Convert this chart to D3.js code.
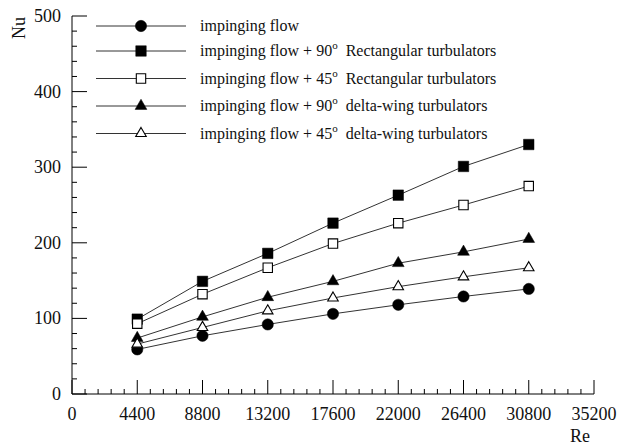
<!DOCTYPE html>
<html><head><meta charset="utf-8">
<script src="https://cdn.jsdelivr.net/npm/d3@7"></script>
<style>body{margin:0;background:#fff}svg{display:block}text{font-family:"Liberation Serif","Times New Roman",serif;fill:#111}</style>
</head><body><svg id="c" width="627" height="445"></svg>
<script>
const re = [4400, 8800, 13200, 17600, 22000, 26400, 30800];
const nuImp = [59, 77, 92, 106, 118, 129, 139];
const nuRect90 = [99, 149, 186, 226, 263, 301, 330];
const nuRect45 = [93, 132, 167, 199, 226, 250, 275];
const nuDelta90 = [74, 102, 128, 149, 173, 188, 205];
const nuDelta45 = [66, 88, 110, 127, 142, 155, 167];
const xTicks = [0, 4400, 8800, 13200, 17600, 22000, 26400, 30800, 35200];
const yTicks = [0, 100, 200, 300, 400, 500];
const series = [
  {pre:"impinging flow", deg:null, post:"", vals:nuImp, sym:d3.symbolCircle, fill:true},
  {pre:"impinging flow + 90", deg:"o", post:"  Rectangular turbulators", vals:nuRect90, sym:d3.symbolSquare, fill:true},
  {pre:"impinging flow + 45", deg:"o", post:"  Rectangular turbulators", vals:nuRect45, sym:d3.symbolSquare, fill:false},
  {pre:"impinging flow + 90", deg:"o", post:"  delta-wing turbulators", vals:nuDelta90, sym:d3.symbolTriangle, fill:true},
  {pre:"impinging flow + 45", deg:"o", post:"  delta-wing turbulators", vals:nuDelta45, sym:d3.symbolTriangle, fill:false}
];
const svg = d3.select("#c");
const x = d3.scaleLinear().domain([0, 35200]).range([72, 594]);
const y = d3.scaleLinear().domain([0, 500]).range([394, 16]);
const g = svg.append("g");
// axes
g.append("line").attr("x1",x(0)).attr("x2",x(35200)).attr("y1",y(0)).attr("y2",y(0)).attr("stroke","#000");
g.append("line").attr("x1",x(0)).attr("x2",x(0)).attr("y1",y(0)).attr("y2",y(500)).attr("stroke","#000");
const xMinor = d3.range(0, 35200 + 1, 880);
g.selectAll(".xt").data(xMinor).join("line")
  .attr("x1",d=>x(d)).attr("x2",d=>x(d)).attr("y1",y(0))
  .attr("y2",d=>y(0) - (d % 4400 === 0 ? 14 : 5)).attr("stroke","#000");
const yMinor = d3.range(0, 500 + 1, 20);
g.selectAll(".yt").data(yMinor).join("line")
  .attr("y1",d=>y(d)).attr("y2",d=>y(d)).attr("x1",x(0))
  .attr("x2",d=>x(0) + (d % 100 === 0 ? 15 : 5)).attr("stroke","#000");
g.selectAll(".xl").data(xTicks).join("text")
  .attr("x",d=>x(d)).attr("y",420).attr("text-anchor","middle").attr("font-size",18).text(d=>d);
g.selectAll(".yl").data(yTicks).join("text")
  .attr("x",61).attr("y",d=>y(d)+6).attr("text-anchor","end").attr("font-size",18).text(d=>d);
svg.append("text").attr("transform","translate(25,28) rotate(-90)").attr("text-anchor","middle").attr("font-size",18).text("Nu");
svg.append("text").attr("x",580).attr("y",442).attr("text-anchor","middle").attr("font-size",18).text("Re");
// series
const line = d3.line().x((d,i)=>x(re[i])).y(d=>y(d));
function drawSym(sel, s, cx, cy) {
  const size = s.sym === d3.symbolTriangle ? 60 : (s.sym === d3.symbolSquare ? 110 : 100);
  const sz = s.fill ? size : size*0.8;
  sel.append("path").attr("d", d3.symbol().type(s.sym).size(sz)())
    .attr("transform", `translate(${cx},${cy})`)
    .attr("fill", s.fill ? "#000" : "#fff").attr("stroke","#000").attr("stroke-width", s.fill?0.5:1.1);
}
series.forEach(s => {
  g.append("path").datum(s.vals).attr("d", line).attr("fill","none").attr("stroke","#333").attr("stroke-width",1);
});
series.forEach(s => {
  s.vals.forEach((v,i) => drawSym(g, s, x(re[i]), y(v)));
});
// legend
const ly = [26, 51, 78.5, 106, 133.5];
series.forEach((s,i) => {
  const lg = svg.append("g");
  lg.append("line").attr("x1",96).attr("x2",186).attr("y1",ly[i]).attr("y2",ly[i]).attr("stroke","#333").attr("stroke-width",1);
  drawSym(lg, s, 141, ly[i]);
  const t = lg.append("text").attr("x",200).attr("y",ly[i]+5).attr("font-size",16).attr("xml:space","preserve").style("white-space","pre");
  t.append("tspan").text(s.pre);
  if (s.deg) {
    t.append("tspan").attr("dy",-7).attr("font-size",11).text(s.deg);
    t.append("tspan").attr("dy",7).text(s.post);
  }
});
</script></body></html>
